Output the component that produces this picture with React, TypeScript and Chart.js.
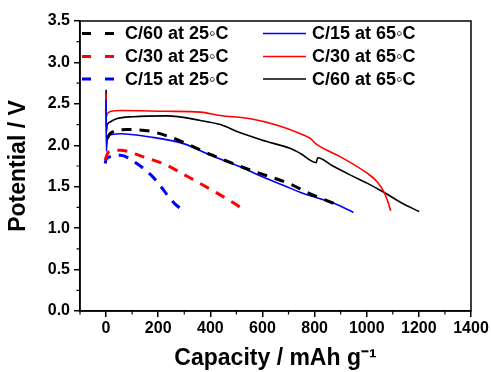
import React, { useEffect, useRef } from "react";
import { Chart, registerables } from "chart.js";

Chart.register(...registerables);

// ---- data (capacity in mAh/g, potential in V) ----
const c60at25Cap = [5, 15, 79, 169, 246, 323, 400, 554, 708, 772, 881];
const c60at25Pot = [2.08, 2.14, 2.19, 2.17, 2.10, 2.00, 1.89, 1.70, 1.53, 1.43, 1.29];

const c30at25Cap = [-4, 10, 54, 143, 233, 297, 400, 496, 528];
const c30at25Pot = [1.82, 1.92, 1.94, 1.86, 1.76, 1.65, 1.47, 1.29, 1.22];

const c15at25Cap = [-4, 2, 54, 118, 182, 208, 240, 265, 293];
const c15at25Pot = [1.78, 1.84, 1.88, 1.78, 1.61, 1.51, 1.38, 1.29, 1.22];

const c15at65Cap = [0, 1, 4, 9, 54, 169, 297, 400, 515, 600, 708, 746, 874, 949];
const c15at65Pot = [2.55, 1.93, 2.05, 2.12, 2.14, 2.10, 2.02, 1.88, 1.74, 1.62, 1.48, 1.43, 1.30, 1.19];

const c30at65Cap = [0, 1, 4, 20, 54, 233, 362, 438, 554, 660, 746, 785, 804, 900, 1003, 1040, 1067, 1082, 1092];
const c30at65Pot = [2.62, 2.34, 2.38, 2.41, 2.42, 2.41, 2.40, 2.36, 2.32, 2.24, 2.14, 2.08, 2.02, 1.86, 1.66, 1.56, 1.43, 1.31, 1.21];

const c60at65Cap = [0, 1, 4, 15, 40, 105, 233, 362, 438, 515, 600, 708, 746, 806, 812, 870, 938, 1003, 1067, 1131, 1201];
const c60at65Pot = [2.67, 2.16, 2.24, 2.28, 2.32, 2.345, 2.355, 2.30, 2.25, 2.15, 2.06, 1.96, 1.90, 1.79, 1.85, 1.75, 1.64, 1.54, 1.43, 1.31, 1.20];

const seriesLabels = [
  "C/60 at 25◦C",
  "C/30 at 25◦C",
  "C/15 at 25◦C",
  "C/15 at 65◦C",
  "C/30 at 65◦C",
  "C/60 at 65◦C",
];

const xMajorTicks = [0, 200, 400, 600, 800, 1000, 1200, 1400];
const xMinorTicks = [-100, 100, 300, 500, 700, 900, 1100, 1300];
const yMajorTicks = [0, 0.5, 1.0, 1.5, 2.0, 2.5, 3.0, 3.5];
const yMinorTicks = [0.25, 0.75, 1.25, 1.75, 2.25, 2.75, 3.25];

const FONT = "'Liberation Sans', Arial, Helvetica, sans-serif";
const BLACK = "#000000";
const RED = "#ff0000";
const BLUE = "#0000ff";

const pts = (xs: number[], ys: number[]) => xs.map((x, i) => ({ x, y: ys[i] }));

const dashed = [10, 8];

const styles = [
  { color: BLACK, dash: dashed, width: 3 },
  { color: RED, dash: dashed, width: 3 },
  { color: BLUE, dash: dashed, width: 3 },
  { color: BLUE, dash: [] as number[], width: 1.6 },
  { color: RED, dash: [] as number[], width: 1.6 },
  { color: BLACK, dash: [] as number[], width: 1.6 },
];

const seriesData = [
  pts(c60at25Cap, c60at25Pot),
  pts(c30at25Cap, c30at25Pot),
  pts(c15at25Cap, c15at25Pot),
  pts(c15at65Cap, c15at65Pot),
  pts(c30at65Cap, c30at65Pot),
  pts(c60at65Cap, c60at65Pot),
];

const decorPlugin = {
  id: "decor",
  afterDraw(chart: any) {
    const { ctx, chartArea: a, scales } = chart;
    ctx.save();
    // frame
    ctx.strokeStyle = BLACK;
    ctx.lineWidth = 1.5;
    ctx.setLineDash([]);
    ctx.strokeRect(a.left, a.top, a.right - a.left, a.bottom - a.top);
    // minor ticks
    ctx.lineWidth = 1.2;
    ctx.beginPath();
    for (const v of xMinorTicks) {
      const px = scales.x.getPixelForValue(v);
      ctx.moveTo(px, a.bottom);
      ctx.lineTo(px, a.bottom + 3.5);
    }
    for (const v of yMinorTicks) {
      const py = scales.y.getPixelForValue(v);
      ctx.moveTo(a.left, py);
      ctx.lineTo(a.left - 3.5, py);
    }
    ctx.stroke();

    // legend (two columns, inside plot)
    ctx.font = `bold 18px ${FONT}`;
    ctx.fillStyle = BLACK;
    ctx.textBaseline = "middle";
    ctx.textAlign = "left";
    const rowY = [a.top + 12.5, a.top + 35.5, a.top + 58];
    for (let i = 0; i < 6; i++) {
      const col = i < 3 ? 0 : 1;
      const row = i % 3;
      const y = rowY[row];
      const s = styles[i];
      ctx.strokeStyle = s.color;
      ctx.lineWidth = s.width;
      let x0: number, x1: number, tx: number;
      if (col === 0) {
        x0 = a.left + 2;
        x1 = a.left + 34;
        tx = a.left + 45;
        ctx.setLineDash([9, 14]);
      } else {
        x0 = a.left + 183;
        x1 = a.left + 226;
        tx = a.left + 232;
        ctx.setLineDash([]);
      }
      ctx.beginPath();
      ctx.moveTo(x0, y);
      ctx.lineTo(x1, y);
      ctx.stroke();
      ctx.setLineDash([]);
      ctx.fillText(seriesLabels[i], tx, y + 1);
    }
    ctx.restore();
  },
};

export default function App() {
  const ref = useRef<HTMLCanvasElement | null>(null);

  useEffect(() => {
    document.body.style.margin = "0";
    const canvas = ref.current;
    if (!canvas) return;
    const chart = new Chart(canvas, {
      type: "line",
      data: {
        datasets: seriesData.map((d, i) => ({
          label: seriesLabels[i],
          data: d,
          borderColor: styles[i].color,
          backgroundColor: styles[i].color,
          borderWidth: styles[i].width,
          borderDash: styles[i].dash,
          pointRadius: 0,
          cubicInterpolationMode: "monotone",
          fill: false,
        })),
      },
      options: {
        responsive: false,
        animation: false,
        devicePixelRatio: 1,
        layout: { padding: { top: 21, right: 20, left: 0, bottom: 0 } },
        plugins: {
          legend: { display: false },
          tooltip: { enabled: false },
        },
        scales: {
          x: {
            type: "linear",
            min: -100,
            max: 1400,
            afterBuildTicks: (s: any) => {
              s.ticks = xMajorTicks.map((v) => ({ value: v }));
            },
            afterFit: (s: any) => {
              s.height = 61;
            },
            grid: {
              display: true,
              drawOnChartArea: false,
              drawTicks: true,
              tickLength: 6,
              color: BLACK,
              lineWidth: 1.5,
            },
            border: { display: true, color: BLACK, width: 1.5 },
            ticks: {
              color: BLACK,
              font: { family: FONT, size: 16, weight: "bold" },
              padding: 2,
              maxRotation: 0,
              autoSkip: false,
              callback: (v: any) => String(v),
            },
            title: {
              display: true,
              text: "Capacity / mAh g⁻¹",
              color: BLACK,
              font: { family: FONT, size: 23, weight: "bold" },
              padding: { top: 0, bottom: 0 },
            },
          },
          y: {
            type: "linear",
            min: 0,
            max: 3.5,
            afterBuildTicks: (s: any) => {
              s.ticks = yMajorTicks.map((v) => ({ value: v }));
            },
            afterFit: (s: any) => {
              s.width = 80;
            },
            grid: {
              display: true,
              drawOnChartArea: false,
              drawTicks: true,
              tickLength: 6,
              color: BLACK,
              lineWidth: 1.5,
            },
            border: { display: true, color: BLACK, width: 1.5 },
            ticks: {
              color: BLACK,
              font: { family: FONT, size: 16, weight: "bold" },
              padding: 4,
              autoSkip: false,
              callback: (v: any) => Number(v).toFixed(1),
            },
            title: {
              display: true,
              text: "Potential / V",
              color: BLACK,
              font: { family: FONT, size: 23, weight: "bold" },
              padding: { top: 5, bottom: 0 },
            },
          },
        },
      },
      plugins: [decorPlugin],
    } as any);
    return () => chart.destroy();
  }, []);

  return (
    <div style={{ width: 491, height: 372, background: "#fff" }}>
      <canvas ref={ref} width={491} height={372} style={{ display: "block" }} />
    </div>
  );
}
